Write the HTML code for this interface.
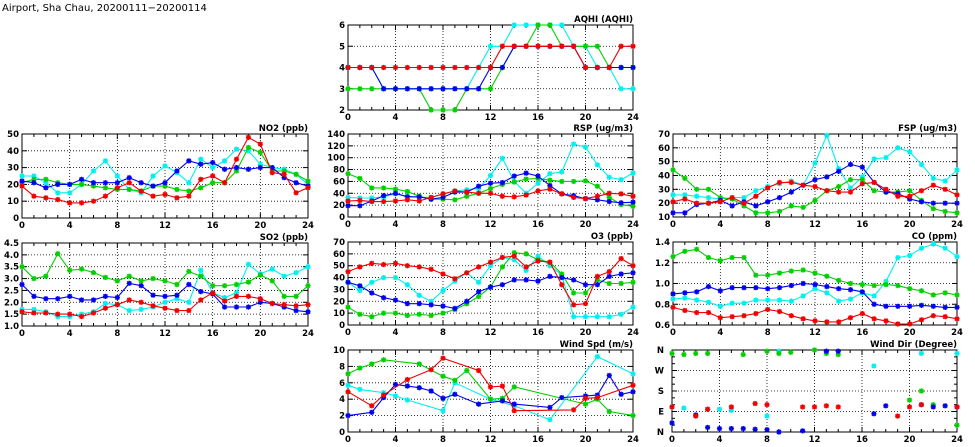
<!DOCTYPE html>
<html><head><meta charset="utf-8">
<style>
html,body{margin:0;padding:0;background:#fff;}
svg{display:block;}
text{font-family:"DejaVu Sans","Liberation Sans",sans-serif;font-weight:bold;fill:#000;}
</style></head>
<body>
<svg id="s" width="975" height="447" viewBox="0 0 975 447" xmlns="http://www.w3.org/2000/svg">
<text x="2" y="11" font-size="10" style="font-weight:normal;font-family:'DejaVu Sans',sans-serif">Airport, Sha Chau, 20200111−20200114</text>
</svg>
<script>
var n=null;
var C={c:"#00f0f0",g:"#00d000",b:"#0000f0",r:"#f00000"};
var P=[
{t:"AQHI (AQHI)",x0:348,x1:633,y0:25,y1:110,mn:2,mx:6,st:1,f:0,d:{
c:[4,4,4,3,3,3,3,3,3,3,3,4,5,5,6,6,6,6,6,5,5,4,4,3,3],
g:[3,3,3,3,3,3,3,2,2,2,3,3,3,4,5,5,6,6,5,5,5,5,4,4,4],
b:[4,4,4,3,3,3,3,3,3,3,3,3,4,4,5,5,5,5,5,5,4,4,4,4,4],
r:[4,4,4,4,4,4,4,4,4,4,4,4,4,5,5,5,5,5,5,5,4,4,4,5,5]}},
{t:"NO2 (ppb)",x0:22,x1:308,y0:134,y1:218,mn:0,mx:50,st:10,f:0,d:{
c:[25,25,21,15,15,20,28,34,25,17,15,25,31,27,21,35,30,34,41,40,32,30,29,26,20],
g:[21,23,23,21,20,20,19,18,17,17,16,19,19,17,16,18,21,21,28,42,39,28,28,26,22],
b:[22,21,18,20,20,23,21,21,21,24,21,19,21,28,34,32,33,29,30,29,30,30,24,21,19],
r:[19,13,12,11,9,9,10,13,18,21,16,13,14,12,13,23,25,21,35,48,44,27,26,15,18]}},
{t:"RSP (ug/m3)",x0:348,x1:633,y0:134,y1:217,mn:0,mx:140,st:20,f:0,d:{
c:[33,32,32,34,39,35,33,33,38,44,46,48,70,99,60,40,57,73,76,123,118,88,67,63,74],
g:[73,65,49,49,47,43,35,30,30,29,35,40,48,55,59,64,65,62,60,60,61,52,33,21,18],
b:[19,19,27,36,40,34,34,30,33,42,42,52,57,58,69,74,69,53,39,36,31,29,26,24,25],
r:[27,28,26,26,27,29,27,33,39,44,42,40,40,35,34,37,44,47,39,33,31,35,40,39,35]}},
{t:"FSP (ug/m3)",x0:673,x1:957,y0:134,y1:217,mn:10,mx:70,st:10,f:0,d:{
c:[26,26,25,24,23,24,24,29,32,34,36,33,49,69,45,31,39,52,53,60,57,48,38,36,44],
g:[44,38,30,30,24,23,18,13,13,14,18,17,22,29,32,37,37,29,28,28,29,22,16,14,13],
b:[13,13,19,20,22,18,21,18,21,24,28,33,37,39,43,48,46,35,28,27,23,21,20,20,20],
r:[21,23,20,20,21,24,20,25,31,35,35,33,32,29,28,28,34,35,30,25,25,29,33,30,26]}},
{t:"SO2 (ppb)",x0:22,x1:308,y0:243,y1:326,mn:1,mx:4.5,st:0.5,f:1,d:{
c:[1.7,1.7,1.6,1.4,1.4,1.5,1.6,1.95,1.9,1.65,1.7,1.8,2.0,2.15,2.0,3.35,2.4,2.2,2.4,3.6,3.2,3.4,3.1,3.25,3.5],
g:[3.5,3.0,3.1,4.05,3.35,3.4,3.25,3.05,2.9,3.1,2.9,3.0,2.9,2.75,3.3,3.1,2.7,2.7,2.75,2.85,3.15,2.9,2.25,2.25,2.7],
b:[2.75,2.25,2.15,2.15,2.25,2.1,2.1,2.25,2.2,2.8,2.7,2.3,2.25,2.3,2.75,2.45,2.35,1.8,1.8,1.8,2.0,1.95,1.8,1.65,1.6],
r:[1.6,1.55,1.55,1.5,1.5,1.4,1.55,1.75,1.9,2.1,2.0,1.85,1.75,1.65,1.65,2.1,2.4,2.05,2.25,2.25,2.15,1.95,1.9,1.85,1.9]}},
{t:"O3 (ppb)",x0:348,x1:633,y0:242,y1:325,mn:0,mx:70,st:10,f:0,d:{
c:[36,29,36,40,40,34,25,20,29,37,44,36,50,57,55,46,58,50,42,7,7,7,7,9,15],
g:[15,9,7,10,10,8,9,8,10,13,18,24,32,49,61,60,55,53,43,27,27,38,35,35,36],
b:[36,33,27,23,21,18,18,17,16,14,20,28,32,34,38,38,37,41,40,38,34,34,41,43,44],
r:[45,49,52,51,52,50,49,47,43,39,44,49,53,57,58,49,54,53,34,17,18,41,45,56,50]}},
{t:"CO (ppm)",x0:673,x1:957,y0:242,y1:325,mn:0.6,mx:1.4,st:0.2,f:1,d:{
c:[.85,.86,.84,.82,.78,.81,.81,.84,.84,.84,.83,.88,.95,.91,.83,.85,.91,.88,1.02,1.25,1.27,1.34,1.38,1.34,1.26],
g:[1.26,1.31,1.33,1.25,1.22,1.25,1.25,1.08,1.08,1.1,1.12,1.13,1.1,1.07,1.03,1.0,0.99,0.98,0.99,0.98,0.95,0.93,0.89,0.91,0.89],
b:[.9,.91,.92,.97,.93,.96,.96,.96,.95,.96,.98,1.0,.99,.97,.95,.94,.92,.8,.78,.78,.78,.79,.78,.77,.77],
r:[.77,.74,.72,.72,.67,.68,.69,.71,.75,.73,.69,.66,.64,.63,.63,.67,.71,.66,.64,.61,.61,.65,.69,.68,.66]}},
{t:"Wind Spd (m/s)",x0:348,x1:633,y0:350,y1:432,mn:0,mx:10,st:2,f:0,d:{
c:[5.7,5.2,n,4.8,4.4,3.9,n,n,2.6,6.0,n,n,4.0,n,3.2,n,n,1.5,n,n,n,9.2,n,n,7.1],
g:[7.1,7.8,8.3,8.8,n,n,8.3,n,6.8,6.3,7.5,n,4.0,4.1,5.5,n,n,n,n,n,3.4,4.0,2.5,n,2.0],
b:[2.0,n,2.4,4.2,5.8,5.6,5.4,5.0,4.1,4.6,n,3.4,n,3.8,3.4,n,n,3.0,4.2,n,4.4,4.5,6.9,4.6,4.9],
r:[4.9,n,3.2,4.5,n,6.4,n,7.6,9.0,n,n,7.5,5.5,5.6,2.6,n,n,n,n,2.7,4.1,4.2,n,n,5.7]}},
{t:"Wind Dir (Degree)",x0:672,x1:957,y0:350,y1:432,mn:0,mx:360,st:90,f:0,wd:1,d:{
g:{0:345,1:340,2:345,3:345,6:340,8:355,9:345,10:350,12:360,13:345,14:340,20:140,21:180,22:120,24:30},
c:{0:110,1:105,3:100,4:100,5:95,8:70,9:355,17:290,21:345,24:345},
b:{0:40,2:75,3:20,4:15,5:15,6:15,7:12,8:10,9:0,11:5,13:355,14:355,17:80,18:115,21:120,22:110,23:115,24:110},
r:{0:110,2:70,3:100,5:110,7:125,8:120,11:110,12:110,13:115,14:110,19:70,20:110,21:120,24:110}}}
];
var s="";
function X(p,h){return p.x0+(p.x1-p.x0)*h/24;}
function Y(p,v){return p.y1-(p.y1-p.y0)*(v-p.mn)/(p.mx-p.mn);}
function star(x,y,col){var r=2.6;return '<path d="M'+(x-r)+' '+y+'H'+(x+r)+'M'+x+' '+(y-r)+'V'+(y+r)+'M'+(x-r*.75)+' '+(y-r*.75)+'L'+(x+r*.75)+' '+(y+r*.75)+'M'+(x-r*.75)+' '+(y+r*.75)+'L'+(x+r*.75)+' '+(y-r*.75)+'" stroke="'+col+'" stroke-width="1.4" fill="none"/>';}
P.forEach(function(p){
 // grid
 for(var h=4;h<24;h+=4){var x=X(p,h);s+='<line x1="'+x+'" y1="'+p.y0+'" x2="'+x+'" y2="'+p.y1+'" stroke="#000" stroke-width="0.8" stroke-dasharray="1,2"/>';}
 var nt=Math.round((p.mx-p.mn)/p.st);
 for(var i=1;i<nt;i++){var y=Y(p,p.mn+i*p.st);s+='<line x1="'+p.x0+'" y1="'+y+'" x2="'+p.x1+'" y2="'+y+'" stroke="#000" stroke-width="0.8" stroke-dasharray="1,2"/>';}
 // ticks
 for(var h=0;h<=24;h++){var x=X(p,h),L=(h%4==0)?5:3;s+='<line x1="'+x+'" y1="'+p.y1+'" x2="'+x+'" y2="'+(p.y1-L)+'" stroke="#000"/><line x1="'+x+'" y1="'+p.y0+'" x2="'+x+'" y2="'+(p.y0+L)+'" stroke="#000"/>';
  if(h%4==0)s+='<text x="'+x+'" y="'+(p.y1+10)+'" font-size="8.5" text-anchor="middle">'+h+'</text>';}
 var wl=["N","E","S","W","N"];
 for(var i=0;i<=nt;i++){var v=p.mn+i*p.st,y=Y(p,v);s+='<line x1="'+p.x0+'" y1="'+y+'" x2="'+(p.x0+5)+'" y2="'+y+'" stroke="#000"/><line x1="'+p.x1+'" y1="'+y+'" x2="'+(p.x1-5)+'" y2="'+y+'" stroke="#000"/>';
  var lb=p.wd?wl[i]:(p.f?v.toFixed(1):Math.round(v));
  s+='<text x="'+(p.x0-(p.wd?8:3))+'" y="'+(y+3)+'" font-size="8.5" text-anchor="end">'+lb+'</text>';
  if(p.wd){for(var k=1;k<3&&i<nt;k++){var yy=Y(p,v+k*30);s+='<line x1="'+p.x0+'" y1="'+yy+'" x2="'+(p.x0+3)+'" y2="'+yy+'" stroke="#000"/><line x1="'+p.x1+'" y1="'+yy+'" x2="'+(p.x1-3)+'" y2="'+yy+'" stroke="#000"/>';}}
 }
 s+='<rect x="'+p.x0+'" y="'+p.y0+'" width="'+(p.x1-p.x0)+'" height="'+(p.y1-p.y0)+'" fill="none" stroke="#000" stroke-width="1"/>';
 s+='<text x="'+p.x1+'" y="'+(p.y0-3)+'" font-size="8.5" text-anchor="end">'+p.t+'</text>';
 ["c","g","b","r"].forEach(function(k){var a=p.d[k],col=C[k],pts=[];
  if(p.wd){for(var h in a)pts.push([X(p,+h),Y(p,a[h])]);}
  else a.forEach(function(v,h){if(v!==null)pts.push([X(p,h),Y(p,v)]);});
  if(!p.wd)s+='<polyline points="'+pts.map(function(q){return q[0].toFixed(1)+','+q[1].toFixed(1)}).join(' ')+'" fill="none" stroke="'+col+'" stroke-width="1.1"/>';
  pts.forEach(function(q){s+=star(q[0],q[1],col);});
 });
});
document.getElementById("s").insertAdjacentHTML("beforeend",s);
</script>
</body></html>
